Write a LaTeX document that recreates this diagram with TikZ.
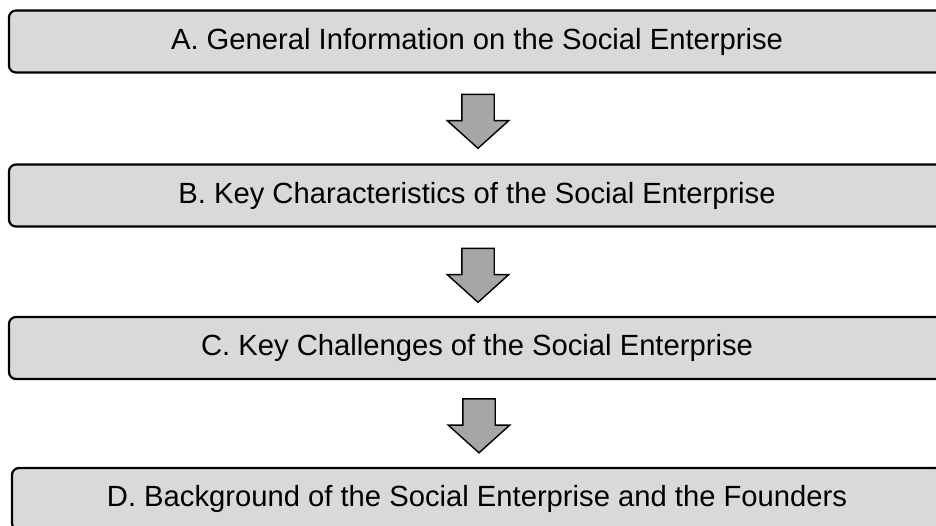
\documentclass[tikz,border=0pt]{standalone}
\usepackage{fontspec}
\setmainfont{Liberation Sans}
\usetikzlibrary{shapes.arrows,calc}
\definecolor{boxgray}{HTML}{D9D9D9}
\definecolor{arrowgray}{HTML}{A6A6A6}
\tikzset{
  stagebox/.style={draw=black, line width=2.2pt, fill=boxgray, rounded corners=7pt,
    minimum height=62pt, inner sep=0pt, font=\fontsize{29.2}{33}\selectfont},
  downarrow/.style={single arrow, draw=black, line width=1.4pt, fill=arrowgray,
    shape border rotate=270, minimum height=54pt, minimum width=60pt, inner sep=15.5pt,
    single arrow head extend=14.5pt, single arrow tip angle=96, anchor=tail}
}
\begin{document}
\begin{tikzpicture}[x=1pt,y=-1pt]
        \useasboundingbox (0,0) rectangle (936,525);
        \clip (0,0) rectangle (936,525);

        % Stages
        \node[stagebox, minimum width=936pt] (genInfo) at (477,41.5) {A. General Information on the Social Enterprise};
        \node[stagebox, minimum width=936pt] (keyChar) at (477,195.5) {B. Key Characteristics of the Social Enterprise};
        \node[stagebox, minimum width=936pt] (keyChal) at (477,348) {C. Key Challenges of the Social Enterprise};
        \node[stagebox, minimum width=930pt] (background) at (477,499) {D. Background of the Social Enterprise and the Founders};

        % Block arrows between the stages
        \node[downarrow] (arrowAB) at ($(genInfo.south)+(1,20)$) {};
        \node[downarrow] (arrowBC) at ($(keyChar.south)+(1,20)$) {};
        \node[downarrow] (arrowCD) at ($(keyChal.south)+(2,18)$) {};
    \end{tikzpicture}
\end{document}
